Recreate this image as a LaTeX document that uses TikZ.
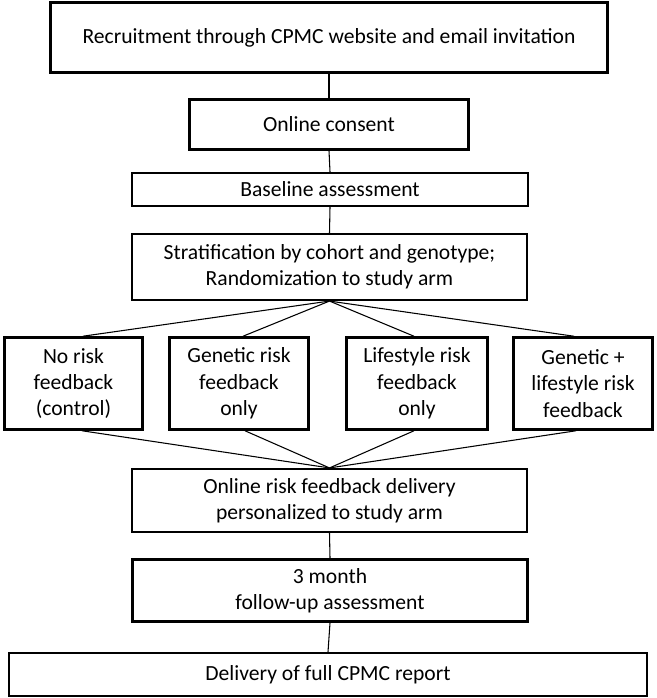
\documentclass[tikz,border=0pt]{standalone}
\usepackage{fontspec}
\setmainfont{Carlito}
\begin{document}
\begin{tikzpicture}[x=0.75pt,y=-0.75pt,
  box/.style={draw=black, line width=1.9pt, fill=white, align=center, inner sep=0pt,
    font=\fontsize{16.2}{19.8}\selectfont},
  thinbox/.style={box, line width=1.6pt},
  conn/.style={draw=black, line width=0.8pt}]
\useasboundingbox (0,0) rectangle (656,698);
\node[box, minimum width=557*0.75pt, minimum height=70*0.75pt] (rec) at (329,37.5) {Recruitment through CPMC website and email invitation};
\node[box, minimum width=279*0.75pt, minimum height=50*0.75pt] (cons) at (329,124.5) {Online consent};
\node[thinbox, minimum width=396*0.75pt, minimum height=33*0.75pt] (base) at (330,189.5) {Baseline assessment};
\node[thinbox, minimum width=395*0.75pt, minimum height=66*0.75pt] (strat) at (329.5,267) {Stratification by cohort and genotype;\\Randomization to study arm};
\node[box, minimum width=138*0.75pt, minimum height=92*0.75pt] (b1) at (73.5,383.5) {No risk\\feedback\\(control)};
\node[box, minimum width=139*0.75pt, minimum height=92*0.75pt] (b2) at (239,383.5) {Genetic risk\\feedback\\only};
\node[box, minimum width=141*0.75pt, minimum height=92*0.75pt] (b3) at (417,383.5) {Lifestyle risk\\feedback\\only};
\node[box, minimum width=139*0.75pt, minimum height=92*0.75pt] (b4) at (583,383.5) {Genetic +\\lifestyle risk\\feedback};
\node[thinbox, minimum width=395*0.75pt, minimum height=63*0.75pt] (fb) at (329.5,500.5) {Online risk feedback delivery\\personalized to study arm};
\node[box, minimum width=395*0.75pt, minimum height=62*0.75pt] (m3) at (330,590.5) {3 month\\follow-up assessment};
\node[thinbox, minimum width=638*0.75pt, minimum height=43*0.75pt] (del) at (328,674.5) {Delivery of full CPMC report};
\draw[conn] (rec.south) -- (cons.north);
\draw[conn] (cons.south) -- (base.north);
\draw[conn] (base.south) -- (strat.north);
\draw[conn] (strat.south) -- ([xshift=7pt]b1.north);
\draw[conn] (strat.south) -- ([xshift=3pt]b2.north);
\draw[conn] (strat.south) -- ([xshift=-2.25pt]b3.north);
\draw[conn] (strat.south) -- ([xshift=-6.75pt]b4.north);
\draw[conn] ([xshift=6.4pt]b1.south) -- (fb.north);
\draw[conn] ([xshift=4.5pt]b2.south) -- (fb.north);
\draw[conn] ([xshift=-2.25pt]b3.south) -- (fb.north);
\draw[conn] ([xshift=-5.25pt]b4.south) -- (fb.north);
\draw[conn] (fb.south) -- (m3.north);
\draw[conn] (m3.south) -- (del.north);
\end{tikzpicture}
\end{document}
